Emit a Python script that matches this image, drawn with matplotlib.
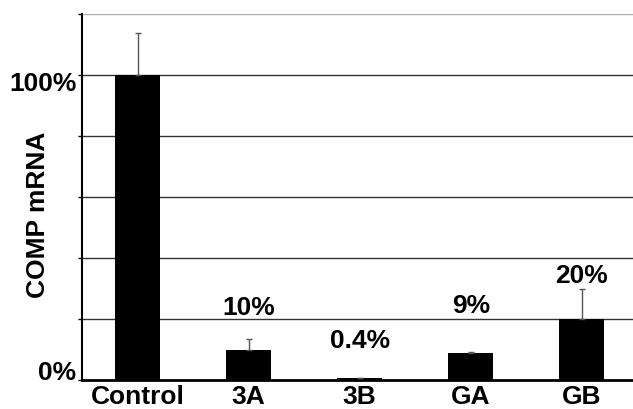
import matplotlib.pyplot as plt
import matplotlib.transforms as mtransforms

plt.rcParams['font.family'] = ['Liberation Sans', 'DejaVu Sans']
plt.rcParams['font.weight'] = 'bold'

groups = ['Control', '3A', '3B', 'GA', 'GB']
means = [1.0, 0.10, 0.005, 0.09, 0.20]
errs = [0.138, 0.033, 0.0, 0.002, 0.10]
pct_labels = ['', '10%', '0.4%', '9%', '20%']
label_heights = [None, 0.24, 0.13, 0.245, 0.345]

ytick_vals = [0.0, 0.2, 0.4, 0.6, 0.8, 1.0, 1.2]
ytick_text = ['0%', '', '', '', '', '100%', '']

FS = 19

fig = plt.figure(figsize=(6.33, 4.10), dpi=100)
ax = fig.add_axes([0.1295, 0.0707, 0.8705, 0.8926])

x = list(range(len(groups)))
ax.bar(x, means, width=0.405, color='black', zorder=3)
ax.errorbar(x, means, yerr=[[0] * len(errs), errs], fmt='none',
            ecolor='#555555', elinewidth=1, capsize=2.5, capthick=1, zorder=4)

for xi, txt, h in zip(x, pct_labels, label_heights):
    if txt:
        ax.text(xi, h, txt, ha='center', va='center', fontsize=FS, fontweight='bold')

for v in ytick_vals[1:]:
    ax.axhline(v, color='#b0b0b0' if v == 1.2 else '#333333', lw=1, zorder=1)

ax.set_xlim(-0.5, 4.46)
ax.set_ylim(0, 1.2)
ax.set_yticks(ytick_vals)
ax.set_yticklabels(ytick_text, fontsize=FS, fontweight='bold')
ax.set_xticks(x)
ax.set_xticklabels(groups, fontsize=FS, fontweight='bold')
ax.tick_params(axis='x', length=0, pad=3)
ax.tick_params(axis='y', length=3, width=1, pad=1)

# nudge the two y labels like the original
offsets = {'0%': 11, '100%': -5}
for lab in ax.get_yticklabels():
    dy = offsets.get(lab.get_text(), 0)
    lab.set_transform(lab.get_transform() + mtransforms.ScaledTranslation(0, dy / 100, fig.dpi_scale_trans))

ax.set_ylabel('COMP mRNA', fontsize=FS, fontweight='bold')
ax.yaxis.set_label_coords(-0.058, 0.454)

for s in ['top', 'right']:
    ax.spines[s].set_visible(False)
ax.spines['left'].set_linewidth(1.5)
ax.spines['bottom'].set_linewidth(2)

fig.savefig('out.png', dpi=100)
